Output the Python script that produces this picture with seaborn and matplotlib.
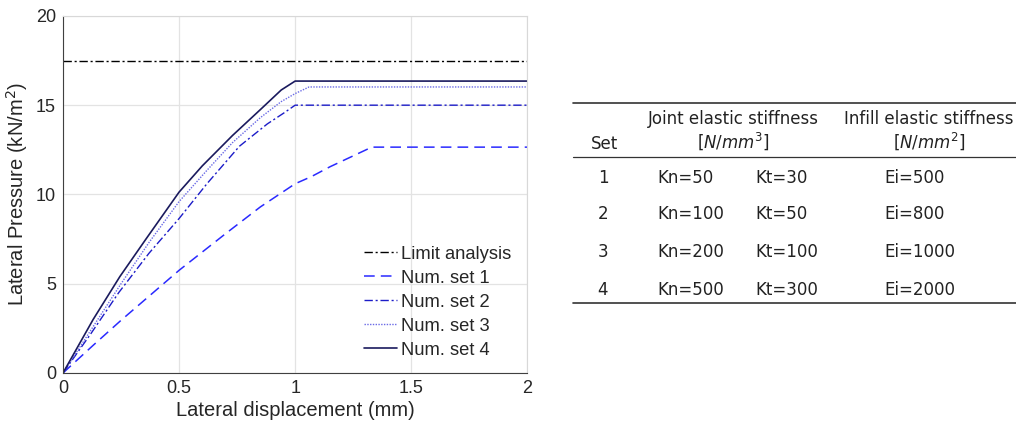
import numpy as np
import pandas as pd
import matplotlib
matplotlib.use("Agg")
import matplotlib.pyplot as plt
import seaborn as sns

# ---- data ----
limit_x = [0.0, 2.0]
limit_y = [17.5, 17.5]

set1_x = [0.0, 0.13, 0.25, 0.5, 0.7, 0.85, 1.0, 1.07, 1.15, 1.24, 1.33, 1.5, 2.0]
set1_y = [0.0, 1.55, 2.95, 5.75, 7.8, 9.3, 10.6, 11.0, 11.55, 12.1, 12.65, 12.65, 12.65]

set2_x = [0.0, 0.12, 0.24, 0.37, 0.5, 0.62, 0.76, 0.88, 0.95, 1.0, 1.5, 2.0]
set2_y = [0.0, 2.2, 4.5, 6.7, 8.65, 10.6, 12.7, 13.95, 14.55, 15.0, 15.0, 15.0]

set3_x = [0.0, 0.13, 0.25, 0.37, 0.5, 0.62, 0.73, 0.85, 0.94, 1.0, 1.06, 1.5, 2.0]
set3_y = [0.0, 2.6, 5.0, 7.3, 9.6, 11.35, 12.9, 14.3, 15.2, 15.65, 16.02, 16.02, 16.02]

set4_x = [0.0, 0.13, 0.245, 0.36, 0.5, 0.6, 0.73, 0.85, 0.94, 1.0, 1.5, 2.0]
set4_y = [0.0, 3.0, 5.4, 7.55, 10.13, 11.6, 13.3, 14.75, 15.85, 16.35, 16.35, 16.35]

series_names = ["Limit analysis", "Num. set 1", "Num. set 2", "Num. set 3", "Num. set 4"]

table_sets = ["1", "2", "3", "4"]
table_kn = ["Kn=50", "Kn=100", "Kn=200", "Kn=500"]
table_kt = ["Kt=30", "Kt=50", "Kt=100", "Kt=300"]
table_ei = ["Ei=500", "Ei=800", "Ei=1000", "Ei=2000"]

# ---- style ----
sns.set_style("white")
plt.rcParams["font.family"] = ["Liberation Sans", "DejaVu Sans"]

fig = plt.figure(figsize=(10.16, 4.30), dpi=100)
ax = fig.add_axes([0.062, 0.1326, 0.457, 0.8304])

frames = []
for name, xs, ys in zip(series_names,
                        [limit_x, set1_x, set2_x, set3_x, set4_x],
                        [limit_y, set1_y, set2_y, set3_y, set4_y]):
    frames.append(pd.DataFrame({"x": xs, "y": ys, "series": name}))
df = pd.concat(frames, ignore_index=True)

colors = ["#000000", "#2a2aff", "#1c1cc8", "#6a6ae6", "#1a1a5e"]
styles = [(0, (6, 2, 1.5, 2)), (0, (7, 4)), (0, (6, 2, 1.5, 2)), (0, (1, 1)), "-"]
widths = [1.0, 1.1, 1.0, 1.0, 1.2]

for name, c, ls, lw in zip(series_names, colors, styles, widths):
    sub = df[df["series"] == name]
    sns.lineplot(data=sub, x="x", y="y", ax=ax, color=c, linestyle=ls,
                 linewidth=lw, label=name, sort=False, estimator=None)

ax.set_xlim(0, 2)
ax.set_ylim(0, 20)
ax.set_xticks([0, 0.5, 1, 1.5, 2])
ax.set_xticklabels(["0", "0.5", "1", "1.5", "2"])
ax.set_yticks([0, 5, 10, 15, 20])
ax.grid(True, color="#e3e3e3", linewidth=0.9)
ax.tick_params(axis="both", labelsize=13, colors="#262626", direction="in",
               length=3, pad=5)
for s in ["left", "bottom"]:
    ax.spines[s].set_color("#404040")
    ax.spines[s].set_linewidth(0.8)
for s in ["top", "right"]:
    ax.spines[s].set_color("#d8d8d8")
    ax.spines[s].set_linewidth(0.8)
ax.set_xlabel("Lateral displacement (mm)", fontsize=14.5, color="#262626", labelpad=3)
ax.set_ylabel("Lateral Pressure (kN/m$^2$)", fontsize=14.5, color="#262626", labelpad=4)

leg = ax.legend(loc="lower right", frameon=False, fontsize=13.2,
                handlelength=1.8, handletextpad=0.2, labelspacing=0.38,
                bbox_to_anchor=(1.0, -0.006))

# ---- table ----
tf = ["DejaVu Sans"]
tcol = "#222222"
fs = 12
def fy(py):
    return 1 - py / 430.0
def fx(px):
    return px / 1016.0

for py, lw in [(103, 1.2), (157, 0.9), (303, 1.2)]:
    fig.add_artist(plt.Line2D([fx(573), fx(1016)], [fy(py), fy(py)],
                              color="#333333", linewidth=lw))

fig.text(fx(605), fy(144), "Set", ha="center", va="center", fontsize=fs,
         family=tf, color=tcol)
fig.text(fx(733), fy(119), "Joint elastic stiffness", ha="center", va="center",
         fontsize=fs, family=tf, color=tcol)
fig.text(fx(733), fy(141), "[$N/mm^3$]", ha="center", va="center",
         fontsize=fs, family=tf, color=tcol)
fig.text(fx(929), fy(119), "Infill elastic stiffness", ha="center", va="center",
         fontsize=fs, family=tf, color=tcol)
fig.text(fx(929), fy(141), "[$N/mm^2$]", ha="center", va="center",
         fontsize=fs, family=tf, color=tcol)

row_y = [178, 214, 252, 290]
for yy, s, kn, kt, ei in zip(row_y, table_sets, table_kn, table_kt, table_ei):
    fig.text(fx(603), fy(yy), s, ha="center", va="center", fontsize=fs, family=tf, color=tcol)
    fig.text(fx(657), fy(yy), kn, ha="left", va="center", fontsize=fs, family=tf, color=tcol)
    fig.text(fx(755), fy(yy), kt, ha="left", va="center", fontsize=fs, family=tf, color=tcol)
    fig.text(fx(884), fy(yy), ei, ha="left", va="center", fontsize=fs, family=tf, color=tcol)

fig.savefig("out.png", dpi=100)
